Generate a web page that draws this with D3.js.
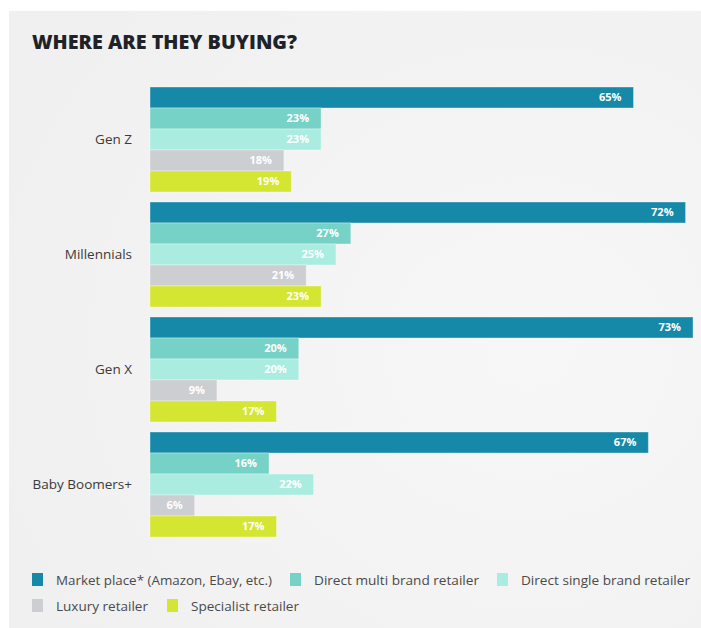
<!DOCTYPE html>
<html>
<head>
<meta charset="utf-8">
<script src="https://cdn.jsdelivr.net/npm/d3@7"></script>
<style>
  html, body { margin: 0; padding: 0; background: #ffffff; }
  svg { display: block; }
</style>
</head>
<body>
<svg id="chart" width="701" height="628"></svg>
<script>
// Generations shown as groups
const categories = ["Gen Z", "Millennials", "Gen X", "Baby Boomers+"];

// Retailer types (series) in drawing order
const series = [
  "Market place* (Amazon, Ebay, etc.)",
  "Direct multi brand retailer",
  "Direct single brand retailer",
  "Luxury retailer",
  "Specialist retailer"
];

// Share buying at each retailer type, % (one array per series, by generation)
const marketPlace   = [65, 72, 73, 67];
const directMulti   = [23, 27, 20, 16];
const directSingle  = [23, 25, 20, 22];
const luxury        = [18, 21,  9,  6];
const specialist    = [19, 23, 17, 17];

const seriesValues = [marketPlace, directMulti, directSingle, luxury, specialist];
const colors = ["#1789a8", "#76d2c6", "#aaede0", "#cdced2", "#d4e532"];

const svg = d3.select("#chart");
const W = 701, H = 628;

// Backdrop panel with soft lighting
const defs = svg.append("defs");
const grad = defs.append("radialGradient")
  .attr("id", "panelGlow")
  .attr("cx", "0.75").attr("cy", "0.55").attr("r", "0.8");
grad.append("stop").attr("offset", "0%").attr("stop-color", "#f7f7f7");
grad.append("stop").attr("offset", "100%").attr("stop-color", "#f0f0f0");

svg.append("rect").attr("x", 0).attr("y", 0).attr("width", W).attr("height", H).attr("fill", "#ffffff");
svg.append("rect").attr("x", 9).attr("y", 11).attr("width", W - 9).attr("height", H - 11)
  .attr("fill", "url(#panelGlow)");

// Title
svg.append("text")
  .attr("x", 32).attr("y", 49)
  .attr("font-family", "'Open Sans', 'DejaVu Sans', sans-serif")
  .attr("font-weight", 800)
  .attr("font-size", 19.5)
  .attr("fill", "#1f2328")
  .attr("textLength", 265)
  .attr("lengthAdjust", "spacingAndGlyphs")
  .text("WHERE ARE THEY BUYING?");

// Scales
const x = d3.scaleLinear().domain([0, 73]).range([150, 693]);
const y0 = d3.scaleBand().domain(categories).range([87, 537]).paddingInner(10 / 115).paddingOuter(0);
const y1 = d3.scaleBand().domain(series).range([0, y0.bandwidth()]).padding(0);

// Rows: one per generation × retailer type
const rows = [];
categories.forEach((c, ci) => {
  series.forEach((s, si) => {
    rows.push({ cat: c, ser: s, si, value: seriesValues[si][ci] });
  });
});

const g = svg.append("g");

g.selectAll("rect.bar")
  .data(rows)
  .join("rect")
  .attr("class", "bar")
  .attr("x", x(0))
  .attr("y", d => y0(d.cat) + y1(d.ser))
  .attr("width", d => x(d.value) - x(0))
  .attr("height", y1.bandwidth())
  .attr("fill", d => colors[d.si])
  .attr("stroke", "rgba(255,255,255,0.35)")
  .attr("stroke-width", 1);

// Value labels inside bar ends
g.selectAll("text.val")
  .data(rows)
  .join("text")
  .attr("class", "val")
  .attr("x", d => x(d.value) - 12)
  .attr("y", d => y0(d.cat) + y1(d.ser) + y1.bandwidth() / 2)
  .attr("dy", "0.36em")
  .attr("text-anchor", "end")
  .attr("font-family", "'Open Sans', 'DejaVu Sans', sans-serif")
  .attr("font-weight", 700)
  .attr("font-size", 11)
  .attr("fill", "#ffffff")
  .text(d => d.value + "%");

// Category axis labels
const yAxis = d3.axisLeft(y0).tickSize(0).tickPadding(0);
const axisG = svg.append("g").attr("transform", "translate(132,0)").call(yAxis);
axisG.select(".domain").remove();
axisG.selectAll("text")
  .attr("font-family", "'Open Sans', 'DejaVu Sans', sans-serif")
  .attr("font-size", 13.5)
  .attr("fill", "#3a3a3a");

// Legend
const legendItems = [
  { i: 0, x: 32,  y: 580, w: 216 },
  { i: 1, x: 290, y: 580, w: 165 },
  { i: 2, x: 497, y: 580, w: 169 },
  { i: 3, x: 32,  y: 606, w: 92 },
  { i: 4, x: 167, y: 606, w: 108 }
];
const lg = svg.append("g").selectAll("g")
  .data(legendItems)
  .join("g")
  .attr("transform", d => `translate(${d.x},${d.y})`);
lg.append("rect")
  .attr("x", 0).attr("y", -7)
  .attr("width", 11).attr("height", 13)
  .attr("fill", d => colors[d.i]);
lg.append("text")
  .attr("x", 24).attr("y", 0)
  .attr("dy", "0.36em")
  .attr("font-family", "'Open Sans', 'DejaVu Sans', sans-serif")
  .attr("font-size", 13)
  .attr("fill", "#4a4a4a")
  .attr("textLength", d => d.w)
  .attr("lengthAdjust", "spacingAndGlyphs")
  .text(d => series[d.i]);
</script>
</body>
</html>
